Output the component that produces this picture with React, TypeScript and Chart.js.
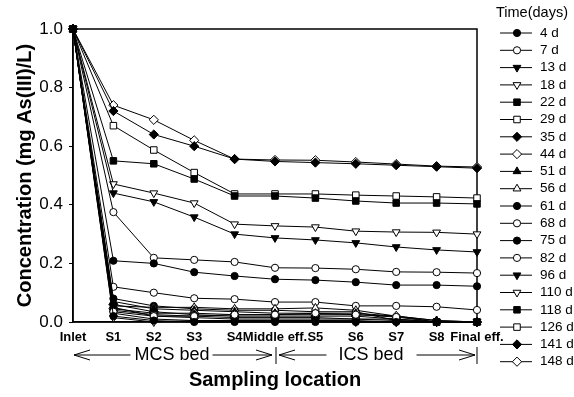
import React, { useEffect, useRef } from 'react';
import { Chart, registerables } from 'chart.js';

Chart.register(...registerables);

const FF = 'Arial, "Liberation Sans", Helvetica, sans-serif';

const categories = ['Inlet', 'S1', 'S2', 'S3', 'S4', 'Middle eff.', 'S5', 'S6', 'S7', 'S8', 'Final eff.'];
const timeLabels = ['4 d', '7 d', '13 d', '18 d', '22 d', '29 d', '35 d', '44 d', '51 d', '56 d', '61 d', '68 d', '75 d', '82 d', '96 d', '110 d', '118 d', '126 d', '141 d', '148 d'];
const yTicks = [0, 0.2, 0.4, 0.6, 0.8, 1.0];

const d4 = [1, 0.02, 0.005, 0, 0, 0, 0, 0, 0, 0, 0];
const d7 = [1, 0.035, 0.02, 0.02, 0.025, 0.025, 0.03, 0.025, 0.017, 0, 0];
const d13 = [1, 0.03, 0.01, 0.005, 0.005, 0.005, 0.005, 0, 0, 0, 0];
const d18 = [1, 0.015, 0, 0.005, 0.005, 0.005, 0.005, 0.005, 0, 0, 0];
const d22 = [1, 0.05, 0.02, 0.015, 0.01, 0.01, 0.01, 0.01, 0.005, 0, 0];
const d29 = [1, 0.04, 0.025, 0.02, 0.015, 0.015, 0.015, 0.01, 0.01, 0, 0];
const d35 = [1, 0.06, 0.035, 0.025, 0.02, 0.02, 0.02, 0.02, 0.01, 0, 0];
const d44 = [1, 0.045, 0.03, 0.03, 0.025, 0.025, 0.025, 0.025, 0.02, 0, 0];
const d51 = [1, 0.07, 0.045, 0.04, 0.035, 0.03, 0.03, 0.03, 0.02, 0.005, 0];
const d56 = [1, 0.055, 0.05, 0.05, 0.045, 0.045, 0.048, 0.04, 0.02, 0.005, 0];
const d61 = [1, 0.08, 0.055, 0.045, 0.04, 0.04, 0.035, 0.035, 0.005, 0, 0];
const d68 = [1, 0.12, 0.1, 0.081, 0.078, 0.068, 0.068, 0.055, 0.055, 0.052, 0.041];
const d75 = [1, 0.209, 0.2, 0.17, 0.157, 0.146, 0.143, 0.136, 0.126, 0.126, 0.122];
const d82 = [1, 0.375, 0.219, 0.212, 0.205, 0.185, 0.184, 0.18, 0.171, 0.17, 0.167];
const d96 = [1, 0.44, 0.41, 0.358, 0.3, 0.287, 0.28, 0.27, 0.256, 0.246, 0.239];
const d110 = [1, 0.471, 0.44, 0.406, 0.334, 0.328, 0.324, 0.31, 0.307, 0.306, 0.3];
const d118 = [1, 0.55, 0.54, 0.488, 0.43, 0.43, 0.423, 0.413, 0.406, 0.406, 0.403];
const d126 = [1, 0.67, 0.587, 0.51, 0.437, 0.437, 0.437, 0.433, 0.43, 0.427, 0.423];
const d141 = [1, 0.72, 0.64, 0.6, 0.556, 0.548, 0.544, 0.54, 0.535, 0.53, 0.525];
const d148 = [1, 0.74, 0.69, 0.62, 0.556, 0.553, 0.552, 0.546, 0.539, 0.532, 0.529];

const seriesValues = [d4, d7, d13, d18, d22, d29, d35, d44, d51, d56, d61, d68, d75, d82, d96, d110, d118, d126, d141, d148];

// marker kinds per series
const markerKinds = [
  'circleF', 'circleO', 'downF', 'downO', 'squareF', 'squareO', 'diamondF', 'diamondO', 'upF', 'upO',
  'circleF', 'circleO', 'circleF', 'circleO', 'downF', 'downO', 'squareF', 'squareO', 'diamondF', 'diamondO',
];

function markerSpec(kind: string): [string, number, boolean, number] {
  const filled = kind.endsWith('F');
  const base = kind.slice(0, -1);
  if (base === 'circle') return ['circle', 0, filled, 3.6];
  if (base === 'down') return ['triangle', 180, filled, 4.5];
  if (base === 'up') return ['triangle', 0, filled, 4.5];
  if (base === 'square') return ['rect', 0, filled, 4.6];
  return ['rectRot', 0, filled, 4.6];
}

function drawMarker(ctx: CanvasRenderingContext2D, kind: string, x: number, y: number) {
  const [style, rot, filled, r] = markerSpec(kind);
  ctx.beginPath();
  if (style === 'circle') {
    ctx.arc(x, y, r, 0, Math.PI * 2);
  } else if (style === 'triangle') {
    const s = rot === 180 ? -1 : 1;
    for (let k = 0; k < 3; k++) {
      const a = -Math.PI / 2 + (k * 2 * Math.PI) / 3;
      const px = x + Math.cos(a) * r;
      const py = y + s * Math.sin(a) * r;
      if (k === 0) ctx.moveTo(px, py);
      else ctx.lineTo(px, py);
    }
    ctx.closePath();
  } else if (style === 'rect') {
    const h = r * Math.SQRT1_2;
    ctx.rect(x - h, y - h, 2 * h, 2 * h);
  } else {
    ctx.moveTo(x, y - r);
    ctx.lineTo(x + r, y);
    ctx.lineTo(x, y + r);
    ctx.lineTo(x - r, y);
    ctx.closePath();
  }
  ctx.fillStyle = filled ? '#000' : '#fff';
  ctx.fill();
  ctx.strokeStyle = '#000';
  ctx.lineWidth = 1;
  ctx.stroke();
}

const decorPlugin = {
  id: 'decor',
  beforeDatasetsDraw(chart: any) {
    const { ctx, chartArea } = chart;
    ctx.save();
    ctx.strokeStyle = '#000';
    ctx.lineWidth = 1.5;
    ctx.strokeRect(chartArea.left, chartArea.top, chartArea.right - chartArea.left, chartArea.bottom - chartArea.top);
    ctx.restore();
  },
  afterDraw(chart: any) {
    const { ctx } = chart;
    const xs = chart.scales.x;
    ctx.save();
    // legend
    ctx.fillStyle = '#000';
    ctx.font = `14.5px ${FF}`;
    ctx.textAlign = 'left';
    ctx.textBaseline = 'middle';
    ctx.fillText('Time(days)', 496, 13);
    chart.data.datasets.forEach((ds: any, i: number) => {
      const y = 33 + i * 17.3;
      ctx.beginPath();
      ctx.strokeStyle = '#000';
      ctx.lineWidth = 1;
      ctx.moveTo(500, y);
      ctx.lineTo(532, y);
      ctx.stroke();
      drawMarker(ctx, markerKinds[i], 517, y);
      ctx.fillStyle = '#000';
      ctx.font = `13.5px ${FF}`;
      ctx.textAlign = 'left';
      ctx.textBaseline = 'middle';
      ctx.fillText(ds.label, 540, y);
    });
    // bed arrows
    const x0 = xs.getPixelForValue(0);
    const x5 = xs.getPixelForValue(5);
    const x10 = xs.getPixelForValue(10);
    const ay = 355;
    ctx.strokeStyle = '#000';
    ctx.lineWidth = 1;
    const head = (tx: number, dir: number) => {
      ctx.beginPath();
      ctx.moveTo(tx - dir * 16, ay - 5);
      ctx.lineTo(tx, ay);
      ctx.lineTo(tx - dir * 16, ay + 5);
      ctx.stroke();
    };
    const seg = (a: number, b: number) => {
      ctx.beginPath();
      ctx.moveTo(a, ay);
      ctx.lineTo(b, ay);
      ctx.stroke();
    };
    ctx.font = `18px ${FF}`;
    ctx.textAlign = 'center';
    ctx.textBaseline = 'middle';
    ctx.fillStyle = '#000';
    const mcsC = (x0 + x5) / 2 - 2;
    const icsC = (x5 + x10) / 2 - 5;
    ctx.fillText('MCS bed', mcsC, ay);
    ctx.fillText('ICS bed', icsC, ay);
    const mw = ctx.measureText('MCS bed').width;
    const iw = ctx.measureText('ICS bed').width;
    head(x0 + 1, -1);
    seg(x0 + 1, mcsC - mw / 2 - 4);
    seg(mcsC + mw / 2 + 3, x5 - 3);
    head(x5 - 3, 1);
    ctx.beginPath();
    ctx.moveTo(x5 + 1, ay - 8);
    ctx.lineTo(x5 + 1, ay + 9);
    ctx.stroke();
    head(x5 + 4, -1);
    seg(x5 + 4, icsC - iw / 2 - 12);
    seg(icsC + iw / 2 + 13, x10 - 2);
    head(x10 - 2, 1);
    ctx.beginPath();
    ctx.moveTo(x10, ay - 8);
    ctx.lineTo(x10, ay + 9);
    ctx.stroke();
    ctx.restore();
  },
};

export default function App() {
  const ref = useRef<HTMLCanvasElement | null>(null);
  useEffect(() => {
    if (!ref.current) return;
    const datasets = timeLabels.map((label, i) => {
      const [style, rot, filled, r] = markerSpec(markerKinds[i]);
      return {
        label,
        data: seriesValues[i],
        borderColor: '#000',
        borderWidth: 1,
        pointStyle: style,
        rotation: rot,
        pointRotation: rot,
        pointRadius: r,
        pointBackgroundColor: filled ? '#000' : '#fff',
        pointBorderColor: '#000',
        pointBorderWidth: 1,
        tension: 0,
        fill: false,
        clip: false,
      };
    });
    const chart = new Chart(ref.current, {
      type: 'line',
      data: { labels: categories, datasets: datasets as any },
      options: {
        animation: false,
        responsive: false,
        devicePixelRatio: 1,
        layout: { padding: { left: 0, right: 97, top: 29, bottom: 0 } },
        plugins: { legend: { display: false }, tooltip: { enabled: false } },
        scales: {
          x: {
            type: 'category',
            offset: false,
            grid: { display: false, drawTicks: false },
            border: { display: true, color: '#000', width: 1.5 },
            ticks: {
              autoSkip: false,
              maxRotation: 0,
              minRotation: 0,
              padding: 8,
              color: '#000',
              font: { family: FF, size: 13, weight: 'bold' },
            },
            title: {
              display: true,
              text: 'Sampling location',
              color: '#000',
              font: { family: FF, size: 20, weight: 'bold' },
              padding: { top: 0, bottom: 5 },
            },
            afterFit: (s: any) => { s.height = 75; },
          },
          y: {
            min: 0,
            max: 1,
            afterBuildTicks: (s: any) => { s.ticks = yTicks.map((v) => ({ value: v })); },
            grid: { display: true, drawOnChartArea: false, drawTicks: true, tickLength: 4, color: '#000' },
            border: { display: true, color: '#000', width: 1.5 },
            ticks: {
              padding: 6,
              color: '#000',
              font: { family: FF, size: 17 },
              callback: (v: any) => Number(v).toFixed(1),
            },
            title: {
              display: true,
              text: 'Concentration (mg As(III)/L)',
              color: '#000',
              font: { family: FF, size: 20, weight: 'bold' },
              padding: { top: 13, bottom: 0 },
            },
            afterFit: (s: any) => { s.width = 73; },
          },
        },
      } as any,
      plugins: [decorPlugin],
    });
    return () => chart.destroy();
  }, []);
  return (
    <div style={{ position: 'absolute', left: 0, top: 0, width: 574, height: 397, background: '#fff' }}>
      <canvas ref={ref} width={574} height={397} style={{ display: 'block', width: 574, height: 397 }} />
    </div>
  );
}
